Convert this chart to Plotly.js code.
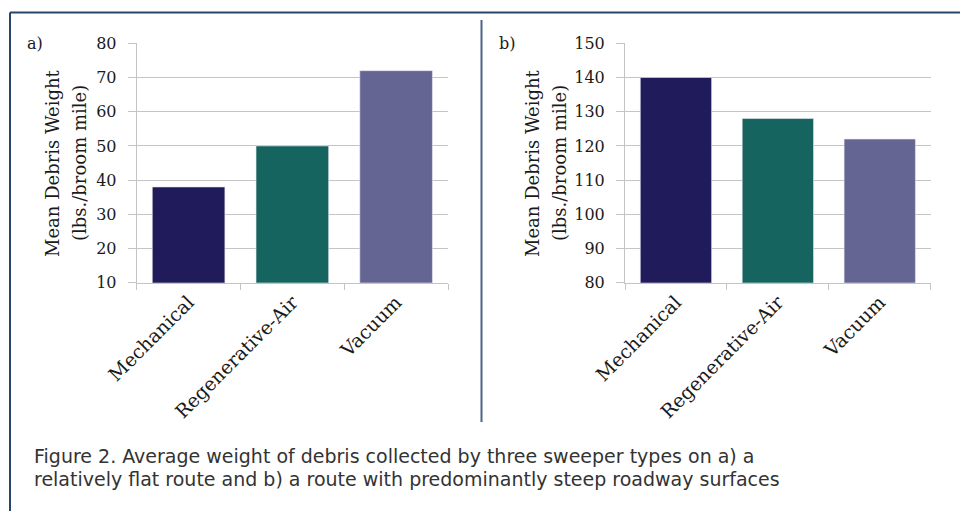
<!DOCTYPE html>
<html>
<head>
<meta charset="utf-8">
<script src="https://cdn.plot.ly/plotly-3.0.1.min.js"></script>
<style>
html,body{margin:0;padding:0;background:#fff;}
#chart{width:960px;height:511px;}
</style>
</head>
<body>
<div id="chart"></div>
<script>
// ---- data ----
const categories = ["Mechanical", "Regenerative-Air", "Vacuum"];
const flatRouteValues = [38, 50, 72];
const steepRouteValues = [140, 128, 122];
const barColors = ["#201c5b", "#16645f", "#646593"];
const yTitleLines = ["Mean Debris Weight", "(lbs./broom mile)"];
const panelLabels = ["a)", "b)"];
const captionLines = [
  "Figure 2. Average weight of debris collected by three sweeper types on a) a",
  "relatively flat route and b) a route with predominantly steep roadway surfaces"
];

const W = 960, H = 511;
const px = x => x / W;
const py = y => 1 - y / H;

const serif = "DejaVu Serif, serif";
const sans = "DejaVu Sans, Liberation Sans, sans-serif";
const gridCol = "#c4c4c4";
const textCol = "#1a1a1a";

function xAxis(domain, anchor) {
  return {
    domain: domain, anchor: anchor, type: "category",
    tickson: "boundaries", ticks: "outside", ticklen: 6, tickcolor: gridCol,
    showgrid: false, showline: true, linecolor: gridCol, linewidth: 1,
    tickangle: -45, tickfont: {family: serif, size: 19, color: textCol},
    zeroline: false, fixedrange: true
  };
}
function yAxis(domain, anchor, range) {
  return {
    domain: domain, anchor: anchor, range: range, dtick: 10,
    ticks: "outside", ticklen: 8, tickcolor: gridCol, ticklabelstandoff: 8,
    showgrid: true, gridcolor: gridCol, gridwidth: 1,
    showline: true, linecolor: gridCol, linewidth: 1,
    tickfont: {family: serif, size: 16, color: textCol},
    zeroline: false, fixedrange: true
  };
}

const yDom = [py(282.7), py(43.3)];

const data = [
  {type: "bar", x: categories, y: flatRouteValues, xaxis: "x", yaxis: "y",
   marker: {color: barColors, line: {color: "#e8e8f0", width: 0.6}}, hoverinfo: "none"},
  {type: "bar", x: categories, y: steepRouteValues, xaxis: "x2", yaxis: "y2",
   marker: {color: barColors, line: {color: "#e8e8f0", width: 0.6}}, hoverinfo: "none"}
];

const annotations = [];
function yTitle(x1, x2) {
  [x1, x2].forEach((xc, i) => annotations.push({
    text: yTitleLines[i], xref: "paper", yref: "paper", x: px(xc), y: py(163.5),
    textangle: -90, showarrow: false, xanchor: "center", yanchor: "middle",
    font: {family: serif, size: 18, color: textCol}
  }));
}
yTitle(52.5, 79.5);
yTitle(532.5, 559.5);
[[25, panelLabels[0]], [497, panelLabels[1]]].forEach(([x, t]) => annotations.push({
  text: t, xref: "paper", yref: "paper", x: px(x), y: py(43),
  showarrow: false, xanchor: "left", yanchor: "middle",
  font: {family: serif, size: 16, color: textCol}
}));
[[456, captionLines[0]], [479, captionLines[1]]].forEach(([y, t]) => annotations.push({
  text: t, xref: "paper", yref: "paper", x: px(32), y: py(y),
  showarrow: false, xanchor: "left", yanchor: "middle", align: "left",
  font: {family: sans, size: 19, color: "#333333"}
}));

const layout = {
  width: W, height: H,
  margin: {l: 0, r: 0, t: 0, b: 0},
  paper_bgcolor: "#ffffff", plot_bgcolor: "#ffffff",
  showlegend: false, bargap: 0.30,
  xaxis: xAxis([px(136.7), px(448)], "y"),
  yaxis: yAxis(yDom, "x", [10, 80]),
  xaxis2: xAxis([px(625), px(930.7)], "y2"),
  yaxis2: yAxis(yDom, "x2", [80, 150]),
  annotations: annotations,
  shapes: [
    {type: "line", xref: "paper", yref: "paper", x0: px(10), x1: 1, y0: py(12.5), y1: py(12.5),
     line: {color: "#27446b", width: 2}},
    {type: "line", xref: "paper", yref: "paper", x0: px(10), x1: px(10), y0: py(12.5), y1: 0,
     line: {color: "#27446b", width: 2}},
    {type: "line", xref: "paper", yref: "paper", x0: px(481.5), x1: px(481.5), y0: py(20), y1: py(422),
     line: {color: "#4a6488", width: 2}}
  ]
};

Plotly.newPlot("chart", data, layout, {staticPlot: true, displayModeBar: false});
</script>
</body>
</html>
